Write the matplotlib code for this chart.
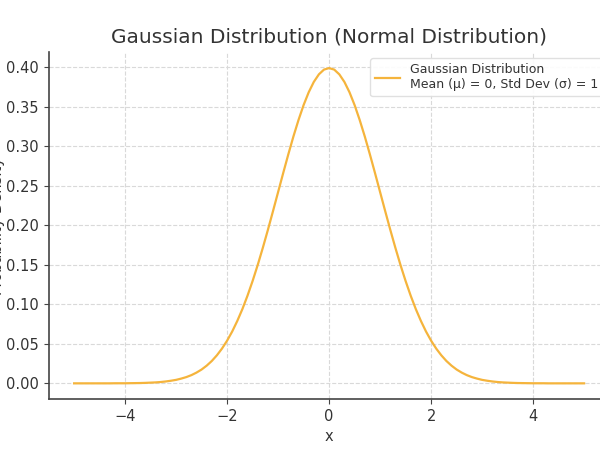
import matplotlib
matplotlib.use("Agg")
import matplotlib.pyplot as plt

# values (x step 0.1)
x_vals = [-5.0, -4.9, -4.8, -4.7, -4.6, -4.5, -4.4, -4.3, -4.2, -4.1,
          -4.0, -3.9, -3.8, -3.7, -3.6, -3.5, -3.4, -3.3, -3.2, -3.1,
          -3.0, -2.9, -2.8, -2.7, -2.6, -2.5, -2.4, -2.3, -2.2, -2.1,
          -2.0, -1.9, -1.8, -1.7, -1.6, -1.5, -1.4, -1.3, -1.2, -1.1,
          -1.0, -0.9, -0.8, -0.7, -0.6, -0.5, -0.4, -0.3, -0.2, -0.1,
          0.0,
          0.1, 0.2, 0.3, 0.4, 0.5, 0.6, 0.7, 0.8, 0.9, 1.0,
          1.1, 1.2, 1.3, 1.4, 1.5, 1.6, 1.7, 1.8, 1.9, 2.0,
          2.1, 2.2, 2.3, 2.4, 2.5, 2.6, 2.7, 2.8, 2.9, 3.0,
          3.1, 3.2, 3.3, 3.4, 3.5, 3.6, 3.7, 3.8, 3.9, 4.0,
          4.1, 4.2, 4.3, 4.4, 4.5, 4.6, 4.7, 4.8, 4.9, 5.0]
density = [0.0000, 0.0000, 0.0000, 0.0000, 0.0000, 0.0000, 0.0000, 0.0000, 0.0001, 0.0001,
           0.0001, 0.0002, 0.0003, 0.0004, 0.0006, 0.0009, 0.0012, 0.0017, 0.0024, 0.0033,
           0.0044, 0.0060, 0.0079, 0.0104, 0.0136, 0.0175, 0.0224, 0.0283, 0.0355, 0.0440,
           0.0540, 0.0656, 0.0790, 0.0940, 0.1109, 0.1295, 0.1497, 0.1714, 0.1942, 0.2179,
           0.2420, 0.2661, 0.2897, 0.3123, 0.3332, 0.3521, 0.3683, 0.3814, 0.3910, 0.3970,
           0.3989,
           0.3970, 0.3910, 0.3814, 0.3683, 0.3521, 0.3332, 0.3123, 0.2897, 0.2661, 0.2420,
           0.2179, 0.1942, 0.1714, 0.1497, 0.1295, 0.1109, 0.0940, 0.0790, 0.0656, 0.0540,
           0.0440, 0.0355, 0.0283, 0.0224, 0.0175, 0.0136, 0.0104, 0.0079, 0.0060, 0.0044,
           0.0033, 0.0024, 0.0017, 0.0012, 0.0009, 0.0006, 0.0004, 0.0003, 0.0002, 0.0001,
           0.0001, 0.0001, 0.0000, 0.0000, 0.0000, 0.0000, 0.0000, 0.0000, 0.0000, 0.0000]

TEXT = "#333333"
plt.rcParams["text.color"] = TEXT
plt.rcParams["axes.labelcolor"] = TEXT
plt.rcParams["xtick.color"] = TEXT
plt.rcParams["ytick.color"] = TEXT

fig = plt.figure(figsize=(6, 4.5), dpi=100)
# the reference is a crop: axes run past the right edge of the figure
ax = fig.add_axes([0.081, 0.113, 0.935, 0.771])

ax.plot(x_vals, density, color="#f5b43c", linewidth=1.6,
        label="Gaussian Distribution\nMean (\u03bc) = 0, Std Dev (\u03c3) = 1")

ax.set_xlim(-5.5, 5.5)
ax.set_ylim(-0.02, 0.419)
ax.set_xticks([-4, -2, 0, 2, 4])
ax.set_yticks([0.0, 0.05, 0.10, 0.15, 0.20, 0.25, 0.30, 0.35, 0.40])
ax.set_yticklabels([f"{v:.2f}" for v in ax.get_yticks()])
ax.tick_params(labelsize=10.5, color="#444444")

ax.set_title("Gaussian Distribution (Normal Distribution)", fontsize=14.5, pad=7)
ax.set_xlabel("x", fontsize=10.5)
# label is mostly cut off at the left edge, as in the reference
ax.set_ylabel("Probability Density", fontsize=10.5)
ax.yaxis.set_label_coords(-0.078, 0.5)

ax.grid(True, linestyle="--", color="#d9d9d9", linewidth=0.8)
ax.set_axisbelow(True)
for side in ("top", "right"):
    ax.spines[side].set_visible(False)
for side in ("left", "bottom"):
    ax.spines[side].set_color("#444444")
    ax.spines[side].set_linewidth(1.2)

ax.legend(loc="upper right", fontsize=9, framealpha=0.9,
          edgecolor="#dddddd")

fig.savefig("out.png", dpi=100)
